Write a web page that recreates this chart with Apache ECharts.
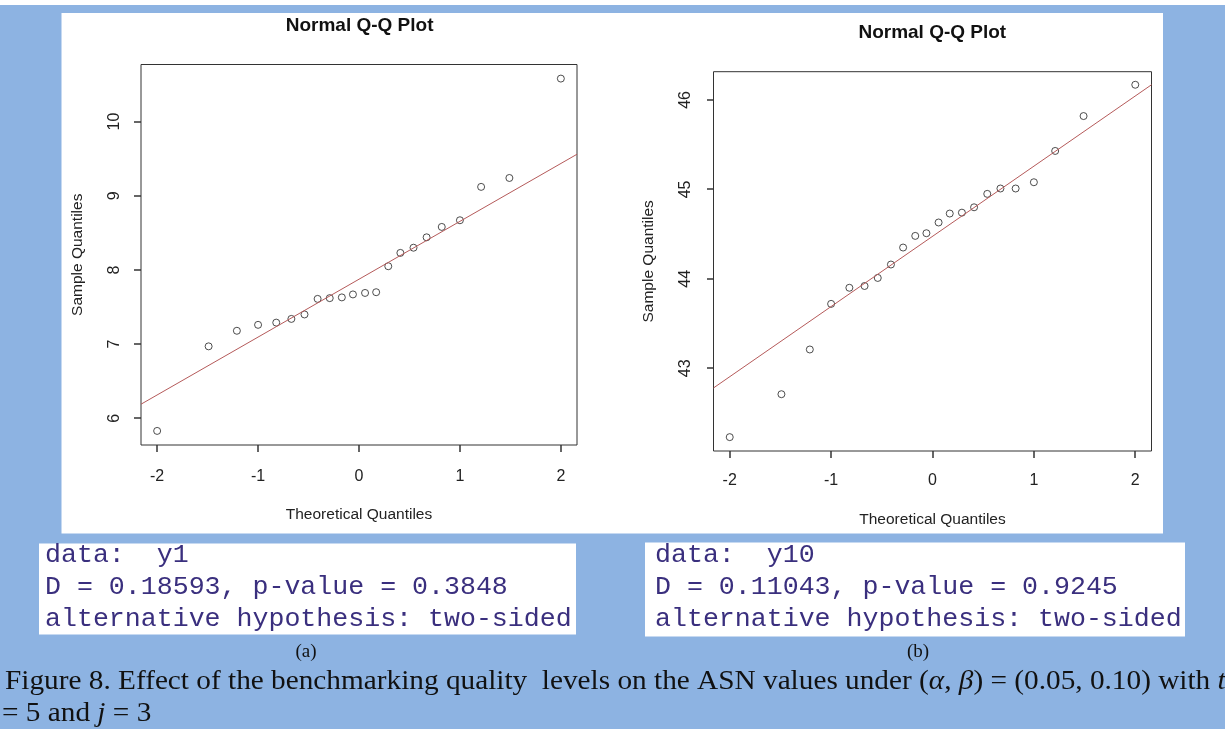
<!DOCTYPE html>
<html>
<head>
<meta charset="utf-8">
<script src="https://cdn.jsdelivr.net/npm/echarts@6/dist/echarts.min.js"></script>
<style>
  html, body { margin: 0; padding: 0; background: #8DB3E2; }
  #chart { width: 1225px; height: 729px; }
</style>
</head>
<body>
<div id="chart"></div>
<script>
// Theoretical normal quantiles (shared by both samples, n = 22)
const theoQuantiles = [-2.00, -1.49, -1.21, -1.00, -0.82, -0.67, -0.54, -0.41, -0.29, -0.17, -0.06,
                        0.06, 0.17, 0.29, 0.41, 0.54, 0.67, 0.82, 1.00, 1.21, 1.49, 2.00];
// Ordered sample values
const sampleY1 = [5.83, 6.97, 7.18, 7.26, 7.29, 7.34, 7.40, 7.61, 7.62, 7.63, 7.67,
                  7.69, 7.70, 8.05, 8.23, 8.30, 8.44, 8.58, 8.67, 9.12, 9.24, 10.58];
const sampleY10 = [42.23, 42.71, 43.21, 43.72, 43.90, 43.92, 44.01, 44.16, 44.35, 44.48, 44.51,
                   44.63, 44.73, 44.74, 44.80, 44.95, 45.01, 45.01, 45.08, 45.43, 45.82, 46.17];
// Reference (qqline) end points at the plot edges
const qqLineY1 = [[-2.16, 6.19], [2.16, 9.56]];
const qqLineY10 = [[-2.16, 42.78], [2.16, 46.17]];
// Axis ranges and tick labels
const xRange = [-2.16, 2.16];
const yRangeY1 = [5.64, 10.77];
const yRangeY10 = [42.075, 46.316];
const xTicks = [-2, -1, 0, 1, 2];
const yTicksY1 = [6, 7, 8, 9, 10];
const yTicksY10 = [43, 44, 45, 46];
// Kolmogorov-Smirnov test output
const ksY1 = ['data:  y1', 'D = 0.18593, p-value = 0.3848', 'alternative hypothesis: two-sided'];
const ksY10 = ['data:  y10', 'D = 0.11043, p-value = 0.9245', 'alternative hypothesis: two-sided'];
const panelLabels = ['(a)', '(b)'];
const captionLine1 = 'Figure 8. Effect of the benchmarking quality  levels on the ASN values under ({i|\u03b1}, {i|\u03b2}) = (0.05, 0.10) with {i|t}';
const captionLine2 = '= 5 and {i|j} = 3';

const SANS = '"Liberation Sans", Arial, sans-serif';
const SERIF = '"Liberation Serif", "Times New Roman", serif';
const MONO = '"Liberation Mono", "Courier New", monospace';
const INK = '#222';
const FRAME = '#333';
const TICK_LEN = 7;

const chart = echarts.init(document.getElementById('chart'), null, { renderer: 'canvas' });

function pairs(xs, ys) { return xs.map((x, i) => [x, ys[i]]); }

function xAxisFor(gridIndex, labelMargin, nameGap) {
  return {
    type: 'value', gridIndex, min: xRange[0], max: xRange[1], position: 'bottom',
    name: 'Theoretical Quantiles', nameLocation: 'middle', nameGap,
    nameTextStyle: { fontFamily: SANS, fontSize: 15.5, color: INK },
    axisLine: { show: false, onZero: false },
    splitLine: { show: false },
    axisTick: { show: false },
    axisLabel: { customValues: xTicks, margin: labelMargin, fontFamily: SANS, fontSize: 16, color: INK }
  };
}
function yAxisFor(gridIndex, range, ticks, labelMargin, nameGap) {
  return {
    type: 'value', gridIndex, min: range[0], max: range[1], position: 'left',
    name: 'Sample Quantiles', nameLocation: 'middle', nameGap,
    nameTextStyle: { fontFamily: SANS, fontSize: 15.5, color: INK },
    axisLine: { show: false, onZero: false },
    splitLine: { show: false },
    axisTick: { show: false },
    axisLabel: { customValues: ticks, rotate: 90, margin: labelMargin, fontFamily: SANS, fontSize: 16, color: INK }
  };
}

function textBox(x, y, w, h, lines, textX) {
  const items = [{ type: 'rect', shape: { x, y, width: w, height: h }, style: { fill: '#fff' }, silent: true }];
  const rows = [555, 587, 619];
  lines.forEach((t, i) => items.push({
    type: 'text', x: textX, y: rows[i],
    style: { text: t, fontFamily: MONO, fontSize: 26.6, fill: '#3a2f7e', textAlign: 'left', textVerticalAlign: 'middle' }
  }));
  return items;
}

// Horizontal squeeze of the caption so line 1 spans the page width
const measureCtx = document.createElement('canvas').getContext('2d');
measureCtx.font = '28px ' + SERIF;
const plainCaption = captionLine1.replace(/\{i\|([^}]*)\}/g, '$1');
const captionScale = 1221 / measureCtx.measureText(plainCaption).width;

const captionRich = { i: { fontStyle: 'italic', fontFamily: SERIF, fontSize: 28, fill: '#111' } };

const graphics = [
  { type: 'rect', shape: { x: 0, y: 0, width: 1225, height: 5 }, style: { fill: '#fff' }, silent: true, z: -10 },
  { type: 'rect', shape: { x: 61.5, y: 13, width: 1101.5, height: 520.5 }, style: { fill: '#fff' }, silent: true, z: -10 },
  { type: 'text', x: 359.6, y: 26, style: { text: 'Normal Q-Q Plot', fontFamily: SANS, fontWeight: 'bold', fontSize: 19, fill: '#111', textAlign: 'center', textVerticalAlign: 'middle' } },
  { type: 'text', x: 932.3, y: 32.7, style: { text: 'Normal Q-Q Plot', fontFamily: SANS, fontWeight: 'bold', fontSize: 19, fill: '#111', textAlign: 'center', textVerticalAlign: 'middle' } },
  ...textBox(39, 543.5, 537, 91, ksY1, 45),
  ...textBox(645, 542.5, 540, 94, ksY10, 655),
  { type: 'text', x: 306, y: 652, style: { text: panelLabels[0], fontFamily: SERIF, fontSize: 19, fill: '#111', textAlign: 'center', textVerticalAlign: 'middle' } },
  { type: 'text', x: 918, y: 652, style: { text: panelLabels[1], fontFamily: SERIF, fontSize: 19, fill: '#111', textAlign: 'center', textVerticalAlign: 'middle' } },
  { type: 'text', x: 5, y: 682, scaleX: captionScale, style: { text: captionLine1, rich: captionRich, fontFamily: SERIF, fontSize: 28, fill: '#111', textAlign: 'left', textVerticalAlign: 'middle' } },
  { type: 'text', x: 2, y: 713.5, scaleX: captionScale, style: { text: captionLine2, rich: captionRich, fontFamily: SERIF, fontSize: 28, fill: '#111', textAlign: 'left', textVerticalAlign: 'middle' } }
];

const option = {
  backgroundColor: 'transparent',
  animation: false,
  grid: [
    { left: 141, top: 64.5, width: 436, height: 380.5, show: true, borderColor: FRAME, borderWidth: 1, backgroundColor: 'transparent' },
    { left: 713.5, top: 71.7, width: 438, height: 379.3, show: true, borderColor: FRAME, borderWidth: 1, backgroundColor: 'transparent' }
  ],
  xAxis: [xAxisFor(0, 24, 62), xAxisFor(1, 22, 61)],
  yAxis: [yAxisFor(0, yRangeY1, yTicksY1, 18.5, 55), yAxisFor(1, yRangeY10, yTicksY10, 20, 57)],
  series: [
    { type: 'scatter', xAxisIndex: 0, yAxisIndex: 0, data: pairs(theoQuantiles, sampleY1),
      symbol: 'circle', symbolSize: 7, itemStyle: { color: 'rgba(255,255,255,0)', borderColor: '#222', borderWidth: 1 } },
    { type: 'line', xAxisIndex: 0, yAxisIndex: 0, data: qqLineY1, showSymbol: false, symbol: 'none',
      lineStyle: { color: '#b55a5a', width: 1 }, z: 3 },
    { type: 'scatter', xAxisIndex: 1, yAxisIndex: 1, data: pairs(theoQuantiles, sampleY10),
      symbol: 'circle', symbolSize: 7, itemStyle: { color: 'rgba(255,255,255,0)', borderColor: '#222', borderWidth: 1 } },
    { type: 'line', xAxisIndex: 1, yAxisIndex: 1, data: qqLineY10, showSymbol: false, symbol: 'none',
      lineStyle: { color: '#b55a5a', width: 1 }, z: 3 }
  ],
  graphic: graphics
};
chart.setOption(option);

// Outward R-style tick marks, placed with the axes' own scales
function tickMarks(axisIndex, yRange, yTicks) {
  const marks = [];
  const px = (pt) => chart.convertToPixel({ xAxisIndex: axisIndex, yAxisIndex: axisIndex }, pt);
  xTicks.forEach(v => {
    const p = px([v, yRange[0]]);
    const x = Math.round(p[0]), y = Math.round(p[1]);
    marks.push({ type: 'line', z: 100, silent: true, shape: { x1: x, y1: y, x2: x, y2: y + TICK_LEN }, style: { stroke: FRAME, lineWidth: 1.5 } });
  });
  yTicks.forEach(v => {
    const p = px([xRange[0], v]);
    const x = Math.round(p[0]), y = Math.round(p[1]);
    marks.push({ type: 'line', z: 100, silent: true, shape: { x1: x, y1: y, x2: x - TICK_LEN, y2: y }, style: { stroke: FRAME, lineWidth: 1.5 } });
  });
  return marks;
}
chart.setOption({ graphic: graphics.concat(tickMarks(0, yRangeY1, yTicksY1), tickMarks(1, yRangeY10, yTicksY10)) });
</script>
</body>
</html>
